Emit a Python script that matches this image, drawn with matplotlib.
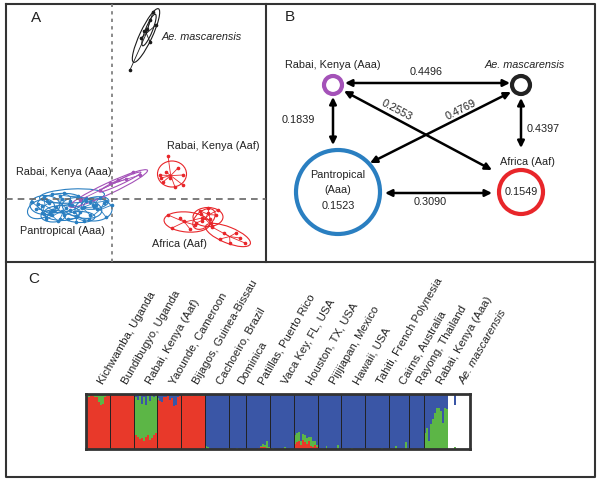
import matplotlib
matplotlib.use("Agg")
import matplotlib.pyplot as plt
from matplotlib.patches import Ellipse, Circle
import numpy as np

plt.rcParams['font.family'] = ['Liberation Sans', 'DejaVu Sans']

# ---------------- data ----------------
# panel A: DAPC scores per population (x, y) and 95% ellipses (cx, cy, w, h, angle)
masc_pts = [(1.8, 12.9), (4.1, 18.7), (3.8, 17.9), (3.2, 16.8), (3.8, 15.7), (2.9, 16.1), (4.4, 17.4), (3.5, 17.0)]
masc_ells = [(3.4, 16.35, 5.9, 1.25, 65), (3.7, 16.9, 3.4, 0.7, 68)]

rabai_aaf_pts = [(5.6, 4.3), (4.9, 2.1), (5.1, 1.7), (6.3, 1.2), (7.1, 1.4), (7.1, 2.4), (6.6, 3.1), (5.4, 2.7), (5.8, 2.1), (4.8, 2.4)]
rabai_aaf_ells = [(6.0, 2.5, 2.9, 2.6, 0)]

rabai_aaa_pts = [(2.1, 2.7), (-0.2, 1.6), (0.6, 1.9), (-1.2, 0.9), (-3.2, -0.1), (2.8, 2.4), (1.4, 2.0)]
rabai_aaa_ells = [(-0.35, 1.05, 8.6, 1.1, 25), (0.8, 1.7, 4.6, 0.5, 25)]

pantropical_pts = [
    [(-6.5, -0.2), (-5.2, 0.3), (-4.0, -0.6), (-5.8, -1.2), (-4.6, -0.9), (-5.0, 0.0)],
    [(-7.4, -0.5), (-6.8, 0.2), (-6.0, -1.1), (-7.0, -1.4), (-6.3, -0.4)],
    [(-3.0, -0.9), (-2.2, -1.6), (-3.8, -1.3), (-2.6, -0.2), (-4.3, -0.5), (-1.8, -0.8)],
    [(-1.5, -1.0), (-0.6, -1.8), (-2.3, -2.0), (-0.8, -0.4), (-1.9, -0.6), (0.0, -0.6)],
    [(-5.6, -0.8), (-4.8, -1.6), (-6.2, -1.3), (-4.2, -1.1), (-5.2, -2.0), (-3.6, -1.7)],
    [(-7.6, -1.0), (-6.6, -1.8), (-8.0, -0.3), (-7.0, -0.7), (-6.2, -1.5)],
    [(-4.8, 0.6), (-3.4, 0.3), (-6.0, 0.5), (-2.6, 0.1), (-4.2, -0.2)],
    [(-3.6, -1.8), (-2.8, -2.2), (-4.4, -2.0), (-3.2, -1.3), (-3.6, -2.3)],
    [(-6.0, -1.6), (-5.4, -2.2), (-6.6, -2.0), (-5.0, -1.2), (-6.8, -1.5)],
    [(-2.2, -0.3), (-1.2, 0.1), (-2.8, -0.8), (-1.6, -0.6), (-0.6, -0.2)],
]
pantropical_ells = [(-5.2, -0.4, 4.6, 1.9, 5), (-6.7, -0.6, 3.0, 1.9, 0), (-3.0, -0.9, 4.0, 2.0, -10),
                    (-1.85, -1.05, 3.7, 2.3, 0), (-5.0, -1.4, 3.6, 1.5, 0), (-7.1, -1.0, 2.8, 1.8, 20),
                    (-4.0, 0.3, 6.5, 1.4, 3), (-3.2, -1.8, 3.0, 1.1, 0), (-5.9, -1.7, 2.4, 1.2, 0),
                    (-1.7, -0.4, 2.8, 1.2, 10)]

africa_pts = [
    [(5.6, -1.6), (6.0, -2.9), (7.2, -2.2), (8.3, -2.6), (9.0, -1.9), (7.8, -3.0), (6.8, -1.9)],
    [(8.8, -1.2), (9.6, -0.9), (10.4, -1.6), (9.9, -2.4), (9.0, -2.2), (10.6, -1.1)],
    [(8.4, -2.4), (9.6, -1.4), (10.0, -2.7), (8.9, -1.5), (9.8, -2.0)],
    [(10.0, -2.8), (11.2, -3.4), (12.4, -3.4), (11.8, -4.4), (13.3, -4.4), (10.8, -4.0), (12.8, -3.9)],
]
africa_ells = [(7.5, -2.3, 4.6, 2.0, -5), (9.6, -1.8, 3.0, 1.9, 0), (9.2, -2.0, 2.6, 1.6, 40), (11.6, -3.6, 4.8, 1.6, -22)]

# panel B: pairwise Fst and within-group values
groups = ['Rabai, Kenya (Aaa)', 'Ae. mascarensis', 'Pantropical\n(Aaa)', 'Africa (Aaf)']
pair_fst = [('Rabai, Kenya (Aaa)', 'Ae. mascarensis', '0.4496'),
            ('Rabai, Kenya (Aaa)', 'Pantropical\n(Aaa)', '0.1839'),
            ('Ae. mascarensis', 'Africa (Aaf)', '0.4397'),
            ('Pantropical\n(Aaa)', 'Africa (Aaf)', '0.3090'),
            ('Rabai, Kenya (Aaa)', 'Africa (Aaf)', '0.2553'),
            ('Ae. mascarensis', 'Pantropical\n(Aaa)', '0.4769')]
within = {'Pantropical\n(Aaa)': '0.1523', 'Africa (Aaf)': '0.1549'}

# panel C: STRUCTURE ancestry proportions (red, green, white; blue is the rest)
pops = ['Kichwamba, Uganda', 'Bundibugyo, Uganda', 'Rabai, Kenya (Aaf)', 'Yaounde, Cameroon',
        'Bijagos, Guinea-Bissau', 'Cachoeiro, Brazil', 'Dominica', 'Patillas, Puerto Rico',
        'Vaca Key, FL, USA', 'Houston, TX, USA', 'Pijijiapan, Mexico', 'Hawaii, USA',
        'Tahiti, French Polynesia', 'Cairns, Australia', 'Rayong, Thailand', 'Rabai, Kenya (Aaa)',
        'Ae. mascarensis']
q_green = [
    [0.03, 0.04, 0.02, 0.03, 0.05, 0.06, 0.15, 0.20, 0.18, 0.05, 0.03, 0.02],
    [0.0] * 12,
    [0.68, 0.70, 0.68, 0.79, 0.62, 0.79, 0.58, 0.70, 0.72, 0.77, 0.70, 0.67],
    [0.02, 0, 0, 0, 0, 0, 0, 0, 0, 0, 0, 0],
    [0.02, 0.0, 0.03, 0.02, 0.0, 0.04, 0.02, 0.0, 0.03, 0.0, 0.04, 0.03],
    [0.05, 0.03, 0, 0, 0, 0, 0, 0, 0, 0, 0, 0.01],
    [0, 0, 0, 0, 0.01, 0, 0, 0, 0],
    [0, 0, 0, 0, 0, 0, 0, 0.02, 0.05, 0.04, 0.12, 0.03],
    [0.0, 0.02, 0, 0, 0, 0, 0, 0.04, 0, 0, 0, 0],
    [0.15, 0.18, 0.16, 0.06, 0.12, 0.14, 0.10, 0.08, 0.15, 0.10, 0.06, 0.04],
    [0, 0, 0, 0, 0.06, 0, 0, 0, 0, 0, 0.08, 0],
    [0, 0, 0, 0, 0, 0.01, 0, 0, 0, 0, 0, 0],
    [0, 0, 0, 0, 0, 0, 0, 0, 0.02, 0, 0, 0],
    [0, 0, 0, 0.05, 0, 0, 0, 0, 0.13, 0],
    [0, 0, 0, 0, 0, 0, 0, 0],
    [0.30, 0.38, 0.15, 0.45, 0.55, 0.65, 0.75, 0.75, 0.70, 0.48, 0.75, 0.72],
    [0, 0, 0, 0.03, 0, 0, 0, 0, 0, 0, 0],
]
q_red = [
    [0.93, 0.94, 0.98, 0.97, 0.95, 0.94, 0.85, 0.80, 0.82, 0.95, 0.97, 0.98],
    [1.0] * 12,
    [0.28, 0.25, 0.22, 0.18, 0.20, 0.15, 0.22, 0.26, 0.16, 0.20, 0.25, 0.30],
    [0.90, 0.88, 0.85, 0.94, 0.95, 0.96, 0.90, 0.92, 0.78, 0.80, 0.95, 0.97],
    [0.98, 1.0, 0.97, 0.98, 1.0, 0.96, 0.98, 1.0, 0.97, 1.0, 0.96, 0.97],
    [0, 0, 0, 0, 0, 0, 0, 0, 0, 0, 0, 0],
    [0, 0, 0, 0, 0, 0, 0, 0, 0],
    [0, 0, 0, 0, 0, 0, 0.02, 0.03, 0.04, 0.03, 0.02, 0.01],
    [0, 0, 0, 0, 0, 0, 0, 0, 0, 0, 0, 0],
    [0.10, 0.12, 0.15, 0.08, 0.16, 0.12, 0.10, 0.14, 0.06, 0.04, 0.08, 0.03],
    [0, 0, 0, 0, 0, 0, 0, 0, 0, 0, 0, 0],
    [0, 0, 0, 0, 0, 0, 0, 0, 0, 0, 0, 0],
    [0, 0, 0, 0, 0, 0, 0, 0, 0, 0, 0, 0],
    [0, 0, 0, 0, 0, 0, 0, 0, 0, 0],
    [0, 0, 0, 0, 0, 0, 0, 0],
    [0, 0, 0, 0, 0, 0, 0, 0, 0, 0, 0, 0],
    [0, 0, 0, 0, 0, 0, 0, 0, 0, 0, 0],
]
q_white = [
    [0.04, 0.02, 0, 0, 0, 0, 0, 0, 0, 0, 0, 0],
    [0] * 12, [0] * 12, [0] * 12, [0] * 12, [0] * 12, [0] * 9, [0] * 12, [0] * 12,
    [0] * 12, [0] * 12, [0] * 12, [0] * 12, [0] * 10, [0] * 8, [0] * 12,
    [1.0, 1.0, 1.0, 0.77, 1.0, 1.0, 1.0, 1.0, 1.0, 1.0, 1.0],
]

# ---------------- figure ----------------
fig = plt.figure(figsize=(6, 4.82), dpi=100)
W, H = 600, 482
fs = 7.8

# overlay in pixel coordinates for frames and panel B
ov = fig.add_axes([0, 0, 1, 1])
ov.set_xlim(0, W)
ov.set_ylim(H, 0)
ov.axis('off')
fc = '#333333'
ov.plot([6, 595, 595, 6, 6], [4, 4, 477, 477, 4], color=fc, lw=1.5)
ov.plot([266, 266], [4, 262], color=fc, lw=1.5)
ov.plot([6, 595], [262, 262], color=fc, lw=1.5)
ov.text(36, 18, 'A', fontsize=11, ha='center', va='center', color='#222')
ov.text(290, 17, 'B', fontsize=11, ha='center', va='center', color='#222')
ov.text(34, 279, 'C', fontsize=11, ha='center', va='center', color='#222')

# ---- panel A ----
axA = fig.add_axes([6 / W, (H - 262) / H, 260 / W, 258 / H])
axA.set_xlim(-10.6, 15.4)
axA.set_ylim(-6.3, 19.5)
axA.axis('off')
axA.axvline(0, color='#777', lw=1.2, ls=(0, (2, 2.5)))
axA.axhline(0, color='#666', lw=1.2, ls=(0, (4, 3)))


def draw_pop(ax, pts, ells, color, lw=0.6):
    pts = np.array(pts)
    c = pts.mean(axis=0)
    for p in pts:
        ax.plot([c[0], p[0]], [c[1], p[1]], color=color, lw=lw)
    ax.plot(pts[:, 0], pts[:, 1], 'o', color=color, ms=1.6)
    for cx, cy, w, h, a in ells:
        ax.add_patch(Ellipse((cx, cy), w, h, angle=a, fill=False, ec=color, lw=0.8))


draw_pop(axA, masc_pts, masc_ells, '#1a1a1a')
draw_pop(axA, rabai_aaf_pts, rabai_aaf_ells, '#e8262a')
for pts, e in zip(pantropical_pts, pantropical_ells):
    draw_pop(axA, pts, [e], '#2a7fc1')
draw_pop(axA, rabai_aaa_pts, rabai_aaa_ells, '#a452b8')
for pts, e in zip(africa_pts, africa_ells):
    draw_pop(axA, pts, [e], '#e8262a')

tk = dict(fontsize=fs, color='#222', va='center')
axA.text(5.0, 16.2, 'Ae. mascarensis', style='italic', **tk)
axA.text(5.5, 5.3, 'Rabai, Kenya (Aaf)', **tk)
axA.text(-9.6, 2.7, 'Rabai, Kenya (Aaa)', **tk)
axA.text(-9.2, -3.2, 'Pantropical (Aaa)', **tk)
axA.text(4.0, -4.5, 'Africa (Aaf)', **tk)

# ---- panel B (network, pixel layout) ----
node_xy = {'Rabai, Kenya (Aaa)': (333, 85), 'Ae. mascarensis': (521, 85),
           'Pantropical\n(Aaa)': (338, 192), 'Africa (Aaf)': (521, 192)}
node_r = {'Rabai, Kenya (Aaa)': 9, 'Ae. mascarensis': 9, 'Pantropical\n(Aaa)': 42, 'Africa (Aaf)': 22}
node_col = {'Rabai, Kenya (Aaa)': '#a452b8', 'Ae. mascarensis': '#222222',
            'Pantropical\n(Aaa)': '#2a7fc1', 'Africa (Aaf)': '#e8262a'}
for g in groups:
    ov.add_patch(Circle(node_xy[g], node_r[g], fill=False, ec=node_col[g], lw=3))

ov.text(333, 65, 'Rabai, Kenya (Aaa)', ha='center', va='center', fontsize=fs, color='#222')
ov.text(525, 65, 'Ae. mascarensis', ha='center', va='center', fontsize=fs, color='#222', style='italic')
ov.text(527, 162, 'Africa (Aaf)', ha='center', va='center', fontsize=fs, color='#222')
ov.text(338, 175, 'Pantropical', ha='center', va='center', fontsize=fs, color='#222')
ov.text(338, 190, '(Aaa)', ha='center', va='center', fontsize=fs, color='#222')
ov.text(338, 206, within['Pantropical\n(Aaa)'], ha='center', va='center', fontsize=fs, color='#222')
ov.text(521, 192, within['Africa (Aaf)'], ha='center', va='center', fontsize=fs, color='#222')

# arrow end points and label placement (layout)
arrow_pos = [((345, 83), (510, 83)), ((333, 97), (333, 145)), ((521, 98), (521, 148)),
             ((385, 193), (492, 193)), ((344, 91), (492, 170)), ((511, 92), (370, 163))]
label_pos = [(426, 72, 0, 'center'), (315, 120, 0, 'right'), (527, 129, 0, 'left'),
             (430, 202, 0, 'center'), (397, 110, -28, 'center'), (461, 110, 27, 'center')]
for (a, b, val), (p0, p1), (lx, ly, rot, ha) in zip(pair_fst, arrow_pos, label_pos):
    ov.annotate('', xy=p1, xytext=p0,
                arrowprops=dict(arrowstyle='<|-|>', color='black', lw=1.8, mutation_scale=10,
                                shrinkA=0, shrinkB=0))
    ov.text(lx, ly, val, ha=ha, va='center', rotation=rot, fontsize=fs, color='#222',
            rotation_mode='anchor')

# ---- panel C ----
axC = fig.add_axes([86 / W, (H - 449) / H, 384 / W, 55 / H])
red = np.concatenate([np.array(r, float) for r in q_red])
green = np.concatenate([np.array(g, float) for g in q_green])
white = np.concatenate([np.array(w, float) for w in q_white])
blue = np.clip(1 - red - green - white, 0, 1)
x = np.arange(len(red))
axC.bar(x, red, width=1, align='edge', color='#e8392a', lw=0)
axC.bar(x, green, width=1, bottom=red, align='edge', color='#5cb646', lw=0)
axC.bar(x, white, width=1, bottom=red + green, align='edge', color='white', lw=0)
axC.bar(x, blue, width=1, bottom=red + green + white, align='edge', color='#3a56a6', lw=0)
axC.set_xlim(0, len(red))
axC.set_ylim(0, 1)
axC.set_xticks([])
axC.set_yticks([])
for s in axC.spines.values():
    s.set_linewidth(2)
    s.set_color('#333')

counts = [len(g) for g in q_green]
edges = np.concatenate([[0], np.cumsum(counts)])
for e in edges[1:-2]:
    axC.axvline(e, color='#222', lw=0.7)
for name, e0, e1 in zip(pops, edges[:-1], edges[1:]):
    mid = (e0 + e1) / 2 + 2.8
    axC.text(mid, 1.16, name, transform=axC.get_xaxis_transform(), rotation=60,
             rotation_mode='anchor', ha='left', va='baseline', fontsize=8.2, color='#222',
             style='italic' if name.startswith('Ae.') else 'normal', clip_on=False)

fig.savefig('out.png', dpi=100)
